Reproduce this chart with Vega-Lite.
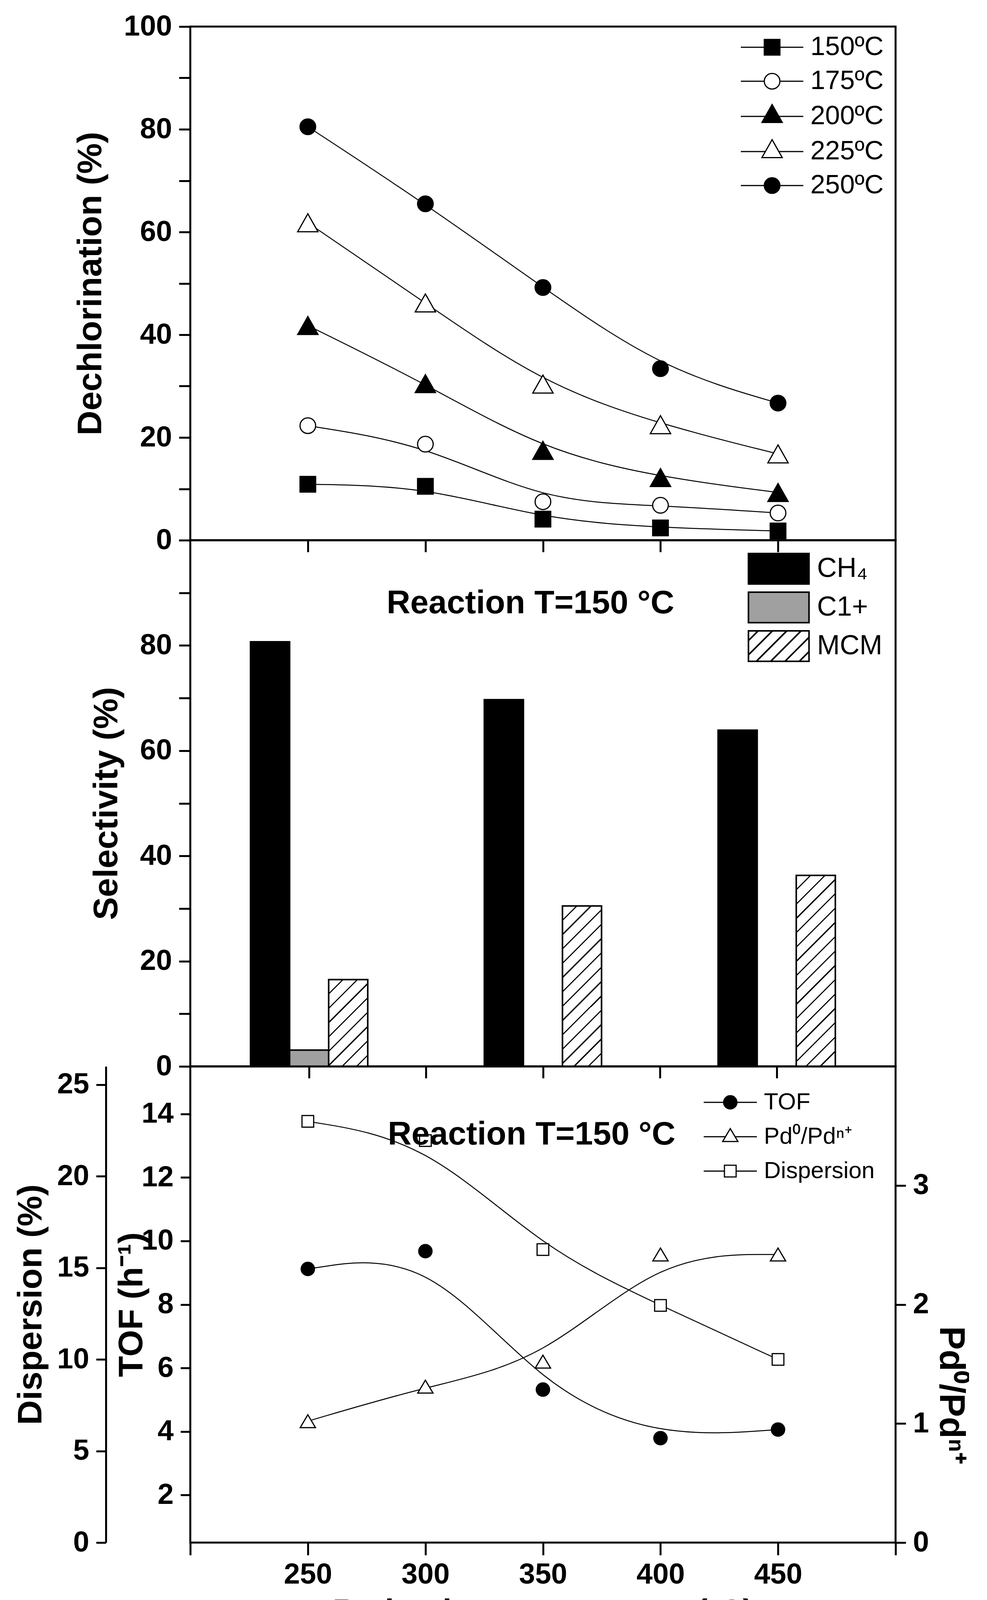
{
  "$schema": "https://vega.github.io/schema/vega-lite/v6.json",
  "background": "white",
  "padding": {"left": 33, "top": 28, "right": 0, "bottom": 0},
  "bounds": "flush",
  "spacing": 0,
  "config": {
    "font": "Liberation Sans",
    "view": {"stroke": "black", "strokeWidth": 5},
    "axis": {"grid": false, "domain": false, "labelFont": "Liberation Sans", "labelFontSize": 74, "labelFontWeight": "bold", "labelColor": "black", "labelOverlap": false, "labelFlush": false, "labelPadding": 18, "tickColor": "black", "tickWidth": 5, "tickSize": 28, "titleFont": "Liberation Sans", "titleFontSize": 88, "titleFontWeight": "bold", "titleColor": "black"},
    "legend": {"padding": 0, "labelFont": "Liberation Sans", "labelColor": "black", "labelLimit": 0}
  },
  "resolve": {"scale": {"fill": "independent", "shape": "independent", "x": "independent", "y": "independent"}, "legend": {"fill": "independent", "shape": "independent"}},
  "vconcat": [
    {
      "width": 1805, "height": 1315,
      "data": {"values": [
        {"T": 250, "series": "150ºC", "value": 10.9}, {"T": 300, "series": "150ºC", "value": 10.5}, {"T": 350, "series": "150ºC", "value": 4.1}, {"T": 400, "series": "150ºC", "value": 2.4}, {"T": 450, "series": "150ºC", "value": 1.8},
        {"T": 250, "series": "175ºC", "value": 22.3}, {"T": 300, "series": "175ºC", "value": 18.7}, {"T": 350, "series": "175ºC", "value": 7.5}, {"T": 400, "series": "175ºC", "value": 6.8}, {"T": 450, "series": "175ºC", "value": 5.3},
        {"T": 250, "series": "200ºC", "value": 41.8}, {"T": 300, "series": "200ºC", "value": 30.5}, {"T": 350, "series": "200ºC", "value": 17.5}, {"T": 400, "series": "200ºC", "value": 12.2}, {"T": 450, "series": "200ºC", "value": 9.3},
        {"T": 250, "series": "225ºC", "value": 61.8}, {"T": 300, "series": "225ºC", "value": 46.2}, {"T": 350, "series": "225ºC", "value": 30.4}, {"T": 400, "series": "225ºC", "value": 22.5}, {"T": 450, "series": "225ºC", "value": 16.8},
        {"T": 250, "series": "250ºC", "value": 80.5}, {"T": 300, "series": "250ºC", "value": 65.5}, {"T": 350, "series": "250ºC", "value": 49.2}, {"T": 400, "series": "250ºC", "value": 33.4}, {"T": 450, "series": "250ºC", "value": 26.7}
      ]},
      "encoding": {
        "x": {"field": "T", "type": "quantitative", "scale": {"domain": [200, 500], "nice": false, "zero": false}, "axis": {"values": [250, 300, 350, 400, 450], "labels": false, "title": null, "tickSize": 30}},
        "y": {"field": "value", "type": "quantitative", "scale": {"domain": [0, 100], "nice": false, "zero": false}, "axis": {"values": [0, 10, 20, 30, 40, 50, 60, 70, 80, 90, 100], "labelExpr": "datum.value % 20 === 0 ? datum.label : ''", "title": "Dechlorination (%)", "titlePadding": 40, "tickSize": 29}}
      },
      "layer": [
        {"mark": {"type": "line", "interpolate": "basis", "color": "black", "strokeWidth": 2.5}, "encoding": {"detail": {"field": "series"}}},
        {"mark": {"type": "point", "filled": true, "size": 1600, "stroke": "black", "strokeWidth": 3, "opacity": 1},
         "encoding": {
           "shape": {"field": "series", "type": "nominal", "scale": {"domain": ["150ºC", "175ºC", "200ºC", "225ºC", "250ºC"], "range": ["M-1,-1H1V1H-1Z", "M1,0A1,1,0,1,1,-1,0A1,1,0,1,1,1,0Z", "M0,-1.15L1.3,1.15H-1.3Z", "M0,-1.15L1.3,1.15H-1.3Z", "M1,0A1,1,0,1,1,-1,0A1,1,0,1,1,1,0Z"]}, "legend": null},
           "fill": {"field": "series", "type": "nominal", "scale": {"domain": ["150ºC", "175ºC", "200ºC", "225ºC", "250ºC"], "range": ["black", "white", "black", "white", "black"]}, "legend": null}
         }},
        {"transform": [{"filter": "false"}],
         "mark": {"type": "point", "filled": true, "size": 1600, "stroke": "black", "strokeWidth": 3, "opacity": 1},
         "encoding": {
           "shape": {"field": "series", "type": "nominal", "scale": {"domain": ["150ºC", "175ºC", "200ºC", "225ºC", "250ºC"], "range": ["M-4,0H-1M1,0H4M-1,-1H1V1H-1Z", "M-4,0H-1M1,0H4M1,0A1,1,0,1,1,-1,0A1,1,0,1,1,1,0Z", "M-4,0H-0.86M0.86,0H4M0,-1.52L1.3,0.78H-1.3Z", "M-4,0H-0.86M0.86,0H4M0,-1.52L1.3,0.78H-1.3Z", "M-4,0H-1M1,0H4M1,0A1,1,0,1,1,-1,0A1,1,0,1,1,1,0Z"]},
             "legend": {"title": null, "orient": "none", "legendX": 1455, "legendY": 19, "symbolSize": 1600, "symbolStrokeWidth": 3, "labelOffset": 64, "labelFontSize": 68, "rowPadding": 19}},
           "fill": {"field": "series", "type": "nominal", "scale": {"domain": ["150ºC", "175ºC", "200ºC", "225ºC", "250ºC"], "range": ["black", "white", "black", "white", "black"]},
             "legend": {"title": null, "orient": "none", "legendX": 1455, "legendY": 19, "symbolSize": 1600, "symbolStrokeWidth": 3, "labelOffset": 64, "labelFontSize": 68, "rowPadding": 19}}
         }}
      ],
      "resolve": {"scale": {"shape": "independent", "fill": "independent"}, "legend": {"shape": "independent", "fill": "independent"}}
    },
    {
      "width": 1805, "height": 1347,
      "title": {"text": "Reaction T=150 °C", "orient": "top", "anchor": "middle", "frame": "group", "offset": 0, "dx": -32, "dy": 283, "baseline": "middle", "font": "Liberation Sans", "fontSize": 84, "fontWeight": "bold", "color": "black"},
      "data": {"values": [
        {"T": 250, "product": "CH₄", "value": 80.7}, {"T": 350, "product": "CH₄", "value": 69.7}, {"T": 450, "product": "CH₄", "value": 63.9},
        {"T": 250, "product": "C1+", "value": 3.1},
        {"T": 250, "product": "MCM", "value": 16.5}, {"T": 350, "product": "MCM", "value": 30.5}, {"T": 450, "product": "MCM", "value": 36.3}
      ]},
      "encoding": {
        "x": {"field": "T", "type": "quantitative", "scale": {"domain": [200, 500], "nice": false, "zero": false}, "axis": {"values": [250, 300, 350, 400, 450], "labels": false, "title": null, "tickSize": 30}},
        "y": {"field": "value", "type": "quantitative", "scale": {"domain": [0, 100], "nice": false, "zero": false}, "axis": {"values": [0, 10, 20, 30, 40, 50, 60, 70, 80, 90, 100], "labelExpr": "datum.value % 20 === 0 && datum.value < 100 ? datum.label : ''", "title": "Selectivity (%)", "titlePadding": 40, "tickSize": 29}}
      },
      "layer": [
        {"transform": [{"filter": "datum.product === 'CH₄'"}], "mark": {"type": "bar", "width": 100, "xOffset": -100, "fill": "black", "stroke": "black", "strokeWidth": 4}},
        {"transform": [{"filter": "datum.product === 'C1+'"}], "mark": {"type": "bar", "width": 100, "xOffset": 0, "fill": "#a0a0a0", "stroke": "black", "strokeWidth": 4}},
        {"transform": [{"filter": "datum.product === 'MCM'"}], "mark": {"type": "bar", "width": 100, "xOffset": 100, "stroke": "black", "strokeWidth": 4},
         "encoding": {"fill": {"condition": [
           {"test": "datum.T === 250", "value": {"gradient": "linear", "x1": 0, "y1": 0, "x2": 1.2344, "y2": 2.7453, "stops": [{"offset":0,"color":"#fff"},{"offset":0.047,"color":"#fff"},{"offset":0.047,"color":"#000"},{"offset":0.053,"color":"#000"},{"offset":0.053,"color":"#fff"},{"offset":0.097,"color":"#fff"},{"offset":0.097,"color":"#000"},{"offset":0.103,"color":"#000"},{"offset":0.103,"color":"#fff"},{"offset":0.147,"color":"#fff"},{"offset":0.147,"color":"#000"},{"offset":0.153,"color":"#000"},{"offset":0.153,"color":"#fff"},{"offset":0.197,"color":"#fff"},{"offset":0.197,"color":"#000"},{"offset":0.203,"color":"#000"},{"offset":0.203,"color":"#fff"},{"offset":0.247,"color":"#fff"},{"offset":0.247,"color":"#000"},{"offset":0.253,"color":"#000"},{"offset":0.253,"color":"#fff"},{"offset":0.297,"color":"#fff"},{"offset":0.297,"color":"#000"},{"offset":0.303,"color":"#000"},{"offset":0.303,"color":"#fff"},{"offset":0.347,"color":"#fff"},{"offset":0.347,"color":"#000"},{"offset":0.353,"color":"#000"},{"offset":0.353,"color":"#fff"},{"offset":0.397,"color":"#fff"},{"offset":0.397,"color":"#000"},{"offset":0.403,"color":"#000"},{"offset":0.403,"color":"#fff"},{"offset":0.447,"color":"#fff"},{"offset":0.447,"color":"#000"},{"offset":0.453,"color":"#000"},{"offset":0.453,"color":"#fff"},{"offset":1,"color":"#fff"}]}},
           {"test": "datum.T === 350", "value": {"gradient": "linear", "x1": 0, "y1": 0, "x2": 0.41005, "y2": 1.68571, "stops": [{"offset":0,"color":"#fff"},{"offset":0.047,"color":"#fff"},{"offset":0.047,"color":"#000"},{"offset":0.053,"color":"#000"},{"offset":0.053,"color":"#fff"},{"offset":0.097,"color":"#fff"},{"offset":0.097,"color":"#000"},{"offset":0.103,"color":"#000"},{"offset":0.103,"color":"#fff"},{"offset":0.147,"color":"#fff"},{"offset":0.147,"color":"#000"},{"offset":0.153,"color":"#000"},{"offset":0.153,"color":"#fff"},{"offset":0.197,"color":"#fff"},{"offset":0.197,"color":"#000"},{"offset":0.203,"color":"#000"},{"offset":0.203,"color":"#fff"},{"offset":0.247,"color":"#fff"},{"offset":0.247,"color":"#000"},{"offset":0.253,"color":"#000"},{"offset":0.253,"color":"#fff"},{"offset":0.297,"color":"#fff"},{"offset":0.297,"color":"#000"},{"offset":0.303,"color":"#000"},{"offset":0.303,"color":"#fff"},{"offset":0.347,"color":"#fff"},{"offset":0.347,"color":"#000"},{"offset":0.353,"color":"#000"},{"offset":0.353,"color":"#fff"},{"offset":0.397,"color":"#fff"},{"offset":0.397,"color":"#000"},{"offset":0.403,"color":"#000"},{"offset":0.403,"color":"#fff"},{"offset":0.447,"color":"#fff"},{"offset":0.447,"color":"#000"},{"offset":0.453,"color":"#000"},{"offset":0.453,"color":"#fff"},{"offset":0.497,"color":"#fff"},{"offset":0.497,"color":"#000"},{"offset":0.503,"color":"#000"},{"offset":0.503,"color":"#fff"},{"offset":0.547,"color":"#fff"},{"offset":0.547,"color":"#000"},{"offset":0.553,"color":"#000"},{"offset":0.553,"color":"#fff"},{"offset":0.597,"color":"#fff"},{"offset":0.597,"color":"#000"},{"offset":0.603,"color":"#000"},{"offset":0.603,"color":"#fff"},{"offset":0.647,"color":"#fff"},{"offset":0.647,"color":"#000"},{"offset":0.653,"color":"#000"},{"offset":0.653,"color":"#fff"},{"offset":0.697,"color":"#fff"},{"offset":0.697,"color":"#000"},{"offset":0.703,"color":"#000"},{"offset":0.703,"color":"#fff"},{"offset":1,"color":"#fff"}]}},
           {"test": "datum.T === 450", "value": {"gradient": "linear", "x1": 0, "y1": 0, "x2": 0.29429, "y2": 1.43996, "stops": [{"offset":0,"color":"#fff"},{"offset":0.047,"color":"#fff"},{"offset":0.047,"color":"#000"},{"offset":0.053,"color":"#000"},{"offset":0.053,"color":"#fff"},{"offset":0.097,"color":"#fff"},{"offset":0.097,"color":"#000"},{"offset":0.103,"color":"#000"},{"offset":0.103,"color":"#fff"},{"offset":0.147,"color":"#fff"},{"offset":0.147,"color":"#000"},{"offset":0.153,"color":"#000"},{"offset":0.153,"color":"#fff"},{"offset":0.197,"color":"#fff"},{"offset":0.197,"color":"#000"},{"offset":0.203,"color":"#000"},{"offset":0.203,"color":"#fff"},{"offset":0.247,"color":"#fff"},{"offset":0.247,"color":"#000"},{"offset":0.253,"color":"#000"},{"offset":0.253,"color":"#fff"},{"offset":0.297,"color":"#fff"},{"offset":0.297,"color":"#000"},{"offset":0.303,"color":"#000"},{"offset":0.303,"color":"#fff"},{"offset":0.347,"color":"#fff"},{"offset":0.347,"color":"#000"},{"offset":0.353,"color":"#000"},{"offset":0.353,"color":"#fff"},{"offset":0.397,"color":"#fff"},{"offset":0.397,"color":"#000"},{"offset":0.403,"color":"#000"},{"offset":0.403,"color":"#fff"},{"offset":0.447,"color":"#fff"},{"offset":0.447,"color":"#000"},{"offset":0.453,"color":"#000"},{"offset":0.453,"color":"#fff"},{"offset":0.497,"color":"#fff"},{"offset":0.497,"color":"#000"},{"offset":0.503,"color":"#000"},{"offset":0.503,"color":"#fff"},{"offset":0.547,"color":"#fff"},{"offset":0.547,"color":"#000"},{"offset":0.553,"color":"#000"},{"offset":0.553,"color":"#fff"},{"offset":0.597,"color":"#fff"},{"offset":0.597,"color":"#000"},{"offset":0.603,"color":"#000"},{"offset":0.603,"color":"#fff"},{"offset":0.647,"color":"#fff"},{"offset":0.647,"color":"#000"},{"offset":0.653,"color":"#000"},{"offset":0.653,"color":"#fff"},{"offset":0.697,"color":"#fff"},{"offset":0.697,"color":"#000"},{"offset":0.703,"color":"#000"},{"offset":0.703,"color":"#fff"},{"offset":0.747,"color":"#fff"},{"offset":0.747,"color":"#000"},{"offset":0.753,"color":"#000"},{"offset":0.753,"color":"#fff"},{"offset":0.797,"color":"#fff"},{"offset":0.797,"color":"#000"},{"offset":0.803,"color":"#000"},{"offset":0.803,"color":"#fff"},{"offset":1,"color":"#fff"}]}}
         ], "value": "white"}}},
        {"transform": [{"filter": "false"}],
         "mark": {"type": "point", "filled": true, "size": 6084, "stroke": "black", "strokeWidth": 4, "opacity": 1},
         "encoding": {
           "shape": {"field": "product", "type": "nominal", "scale": {"domain": ["CH₄", "C1+", "MCM"], "range": ["M-1.987,-1H1.987V1H-1.987Z", "M-1.987,-1H1.987V1H-1.987Z", "M-1.987,-1H1.987V1H-1.987ZM-1.987,-0.363L-1.35,-1M-1.987,0.577L-0.41,-1M-1.47,1L0.53,-1M-0.53,1L1.47,-1M0.41,1L1.987,-0.577M1.35,1L1.987,0.363"]},
             "legend": {"title": null, "orient": "none", "legendX": 1465, "legendY": 32, "symbolSize": 6084, "symbolStrokeWidth": 4, "labelOffset": 57, "labelFontSize": 70, "rowPadding": 5}},
           "fill": {"field": "product", "type": "nominal", "scale": {"domain": ["CH₄", "C1+", "MCM"], "range": ["black", "#a0a0a0", "white"]},
             "legend": {"title": null, "orient": "none", "legendX": 1465, "legendY": 32, "symbolSize": 6084, "symbolStrokeWidth": 4, "labelOffset": 57, "labelFontSize": 70, "rowPadding": 5}}
         }}
      ]
    },
    {
      "width": 1805, "height": 1219,
      "title": {"text": "Reaction T=150 °C", "orient": "top", "anchor": "middle", "frame": "group", "offset": 0, "dx": -29, "dy": 259, "baseline": "middle", "font": "Liberation Sans", "fontSize": 84, "fontWeight": "bold", "color": "black"},
      "data": {"values": [
        {"T": 250, "series": "TOF", "value": 9.12}, {"T": 300, "series": "TOF", "value": 9.68}, {"T": 350, "series": "TOF", "value": 5.32}, {"T": 400, "series": "TOF", "value": 3.79}, {"T": 450, "series": "TOF", "value": 4.06},
        {"T": 250, "series": "Pd⁰/Pdⁿ⁺", "value": 1.02}, {"T": 300, "series": "Pd⁰/Pdⁿ⁺", "value": 1.31}, {"T": 350, "series": "Pd⁰/Pdⁿ⁺", "value": 1.52}, {"T": 400, "series": "Pd⁰/Pdⁿ⁺", "value": 2.42}, {"T": 450, "series": "Pd⁰/Pdⁿ⁺", "value": 2.42},
        {"T": 250, "series": "Dispersion", "value": 23.0}, {"T": 300, "series": "Dispersion", "value": 21.95}, {"T": 350, "series": "Dispersion", "value": 16.0}, {"T": 400, "series": "Dispersion", "value": 12.95}, {"T": 450, "series": "Dispersion", "value": 10.0}
      ]},
      "encoding": {
        "x": {"field": "T", "type": "quantitative", "scale": {"domain": [200, 500], "nice": false, "zero": false}, "axis": {"values": [200, 250, 300, 350, 400, 450, 500], "labelExpr": "datum.value === 200 || datum.value === 500 ? '' : datum.label", "title": "Reduction temperature (ºC)", "titleFontSize": 83, "titleY": 178, "titleBaseline": "middle", "tickSize": 32, "labelPadding": 14}}
      },
      "layer": [
        {"transform": [{"filter": "datum.series === 'TOF'"}],
         "encoding": {"y": {"field": "value", "type": "quantitative", "scale": {"domain": [0.5, 15.5], "nice": false, "zero": false}, "axis": {"orient": "left", "values": [2, 4, 6, 8, 10, 12, 14], "title": "TOF (h⁻¹)", "titlePadding": -20, "tickSize": 25}}},
         "layer": [
           {"mark": {"type": "line", "interpolate": "basis", "color": "black", "strokeWidth": 2.5}},
           {"mark": {"type": "point", "filled": true, "size": 1156, "stroke": "black", "strokeWidth": 3, "opacity": 1},
            "encoding": {
              "shape": {"field": "series", "type": "nominal", "scale": {"domain": ["TOF", "Pd⁰/Pdⁿ⁺", "Dispersion"], "range": ["M1,0A1,1,0,1,1,-1,0A1,1,0,1,1,1,0Z", "M0,-0.97L1.15,0.97H-1.15Z", "M-0.88,-0.88H0.88V0.88H-0.88Z"]}, "legend": null},
              "fill": {"field": "series", "type": "nominal", "scale": {"domain": ["TOF", "Pd⁰/Pdⁿ⁺", "Dispersion"], "range": ["black", "white", "white"]}, "legend": null}
            }}
         ]},
        {"transform": [{"filter": "datum.series === 'Pd⁰/Pdⁿ⁺'"}],
         "encoding": {"y": {"field": "value", "type": "quantitative", "scale": {"domain": [0, 4], "nice": false, "zero": false}, "axis": {"orient": "right", "values": [0, 1, 2, 3], "title": "Pd⁰/Pdⁿ⁺", "titleFontSize": 90, "titleX": 140, "titleY": 841, "titleAngle": 90, "titleBaseline": "middle", "titleAlign": "center", "tickSize": 26}}},
         "layer": [
           {"mark": {"type": "line", "interpolate": "basis", "color": "black", "strokeWidth": 2.5}},
           {"mark": {"type": "point", "filled": true, "size": 1156, "stroke": "black", "strokeWidth": 3, "opacity": 1},
            "encoding": {
              "shape": {"field": "series", "type": "nominal", "scale": {"domain": ["TOF", "Pd⁰/Pdⁿ⁺", "Dispersion"], "range": ["M1,0A1,1,0,1,1,-1,0A1,1,0,1,1,1,0Z", "M0,-0.97L1.15,0.97H-1.15Z", "M-0.88,-0.88H0.88V0.88H-0.88Z"]}, "legend": null},
              "fill": {"field": "series", "type": "nominal", "scale": {"domain": ["TOF", "Pd⁰/Pdⁿ⁺", "Dispersion"], "range": ["black", "white", "white"]}, "legend": null}
            }}
         ]},
        {"transform": [{"filter": "datum.series === 'Dispersion'"}],
         "encoding": {"y": {"field": "value", "type": "quantitative", "scale": {"domain": [0, 26], "nice": false, "zero": false}, "axis": {"orient": "left", "offset": 216, "domain": true, "domainColor": "black", "domainWidth": 5, "values": [0, 5, 10, 15, 20, 25], "title": "Dispersion (%)", "titlePadding": 22, "tickSize": 25}}},
         "layer": [
           {"mark": {"type": "line", "interpolate": "basis", "color": "black", "strokeWidth": 2.5}},
           {"mark": {"type": "point", "filled": true, "size": 1156, "stroke": "black", "strokeWidth": 3, "opacity": 1},
            "encoding": {
              "shape": {"field": "series", "type": "nominal", "scale": {"domain": ["TOF", "Pd⁰/Pdⁿ⁺", "Dispersion"], "range": ["M1,0A1,1,0,1,1,-1,0A1,1,0,1,1,1,0Z", "M0,-0.97L1.15,0.97H-1.15Z", "M-0.88,-0.88H0.88V0.88H-0.88Z"]}, "legend": null},
              "fill": {"field": "series", "type": "nominal", "scale": {"domain": ["TOF", "Pd⁰/Pdⁿ⁺", "Dispersion"], "range": ["black", "white", "white"]}, "legend": null}
            }}
         ]},
        {"transform": [{"aggregate": [{"op": "count", "as": "n"}]}],
         "mark": {"type": "rule", "color": "black", "strokeWidth": 5},
         "encoding": {"x": {"datum": 164.1, "type": "quantitative"}, "x2": {"datum": 200}, "y": {"datum": 0, "type": "quantitative", "scale": {"domain": [0, 26], "nice": false, "zero": false}, "axis": null}}},
        {"transform": [{"filter": "false"}],
         "mark": {"type": "point", "filled": true, "size": 1156, "stroke": "black", "strokeWidth": 3, "opacity": 1},
         "encoding": {
           "shape": {"field": "series", "type": "nominal", "scale": {"domain": ["TOF", "Pd⁰/Pdⁿ⁺", "Dispersion"], "range": ["M-4,0H-1M1,0H4M1,0A1,1,0,1,1,-1,0A1,1,0,1,1,1,0Z", "M-4,0H-0.72M0.72,0H4M0,-1.22L1.15,0.72H-1.15Z", "M-4,0H-0.88M0.88,0H4M-0.88,-0.88H0.88V0.88H-0.88Z"]},
             "legend": {"title": null, "orient": "none", "legendX": 1352, "legendY": 62, "symbolSize": 1156, "symbolStrokeWidth": 3, "labelOffset": 56, "labelFontSize": 60, "rowPadding": 28}},
           "fill": {"field": "series", "type": "nominal", "scale": {"domain": ["TOF", "Pd⁰/Pdⁿ⁺", "Dispersion"], "range": ["black", "white", "white"]},
             "legend": {"title": null, "orient": "none", "legendX": 1352, "legendY": 62, "symbolSize": 1156, "symbolStrokeWidth": 3, "labelOffset": 56, "labelFontSize": 60, "rowPadding": 28}}
         }}
      ],
      "resolve": {"scale": {"y": "independent", "shape": "independent", "fill": "independent"}, "axis": {"y": "independent"}, "legend": {"shape": "independent", "fill": "independent"}}
    }
  ]
}
